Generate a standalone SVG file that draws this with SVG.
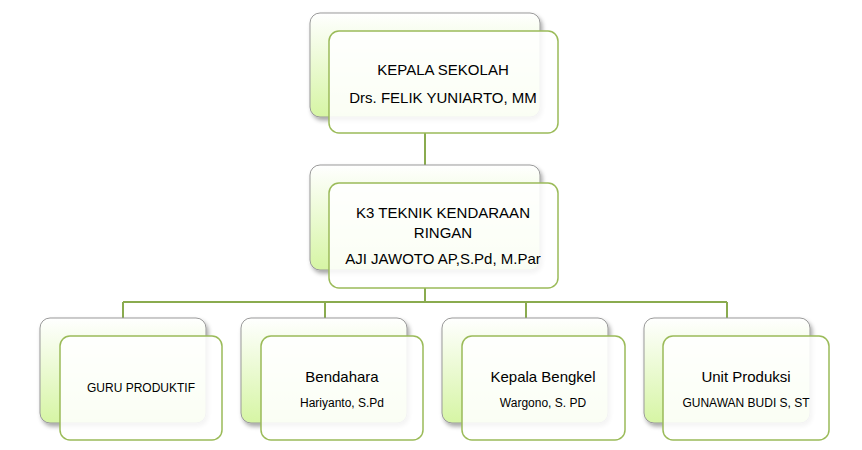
<svg xmlns="http://www.w3.org/2000/svg" width="862" height="450" viewBox="0 0 862 450">
<defs>
<linearGradient id="g" x1="0" y1="0" x2="0" y2="1"><stop offset="0" stop-color="#ffffff"/><stop offset="1" stop-color="#d6f5a4"/></linearGradient>
<filter id="sh" x="-10%" y="-10%" width="130%" height="130%"><feDropShadow dx="2" dy="3" stdDeviation="2" flood-color="#000" flood-opacity="0.35"/></filter>
</defs>
<style>
.back{fill:url(#g);stroke:#999;stroke-width:1;filter:url(#sh)}
.front{fill:#fff;fill-opacity:0.88;stroke:#9bbb59;stroke-width:1.5}
.ln{stroke:#8aab4f;stroke-width:2;fill:none}
text{font-family:"Liberation Sans",Arial,sans-serif;fill:#000;text-anchor:middle}
.b{font-size:15px}.s{font-size:12px}
</style>
<rect width="862" height="450" fill="#fff"/>
<g id="connectors">
<path class="ln" d="M425 133V183M425 288V302M123 302H727M123 302V318M325 302V318M526 302V318M727 302V318"/>
</g>
<g id="kepala">
<rect class="back" x="310" y="13" width="230" height="104" rx="10"/>
<rect class="front" x="329" y="31" width="229" height="102" rx="10"/>
<text class="b" x="443" y="75">KEPALA SEKOLAH</text>
<text class="b" x="443" y="103">Drs. FELIK  YUNIARTO, MM</text>
</g>
<g id="k3">
<rect class="back" x="310" y="165" width="230" height="105" rx="10"/>
<rect class="front" x="329" y="183" width="229" height="105" rx="10"/>
<text class="b" x="443" y="218">K3 TEKNIK KENDARAAN</text>
<text class="b" x="443" y="238">RINGAN</text>
<text class="b" x="443" y="264">AJI JAWOTO AP,S.Pd, M.Par</text>
</g>
<g id="guru">
<rect class="back" x="40" y="318" width="166" height="105" rx="10"/>
<rect class="front" x="60" y="336" width="162" height="104" rx="10"/>
<text class="s" x="141" y="392">GURU PRODUKTIF</text>
</g>
<g id="bendahara">
<rect class="back" x="241" y="318" width="166" height="105" rx="10"/>
<rect class="front" x="261" y="336" width="162" height="104" rx="10"/>
<text class="b" x="342" y="382">Bendahara</text>
<text class="s" x="342" y="407">Hariyanto, S.Pd</text>
</g>
<g id="bengkel">
<rect class="back" x="442" y="318" width="166" height="105" rx="10"/>
<rect class="front" x="462" y="336" width="163" height="104" rx="10"/>
<text class="b" x="543" y="382">Kepala Bengkel</text>
<text class="s" x="543" y="407">Wargono, S. PD</text>
</g>
<g id="unit">
<rect class="back" x="644" y="318" width="166" height="105" rx="10"/>
<rect class="front" x="663" y="336" width="166" height="104" rx="10"/>
<text class="b" x="746" y="382">Unit Produksi</text>
<text class="s" x="746" y="407">GUNAWAN BUDI S, ST</text>
</g>
</svg>
